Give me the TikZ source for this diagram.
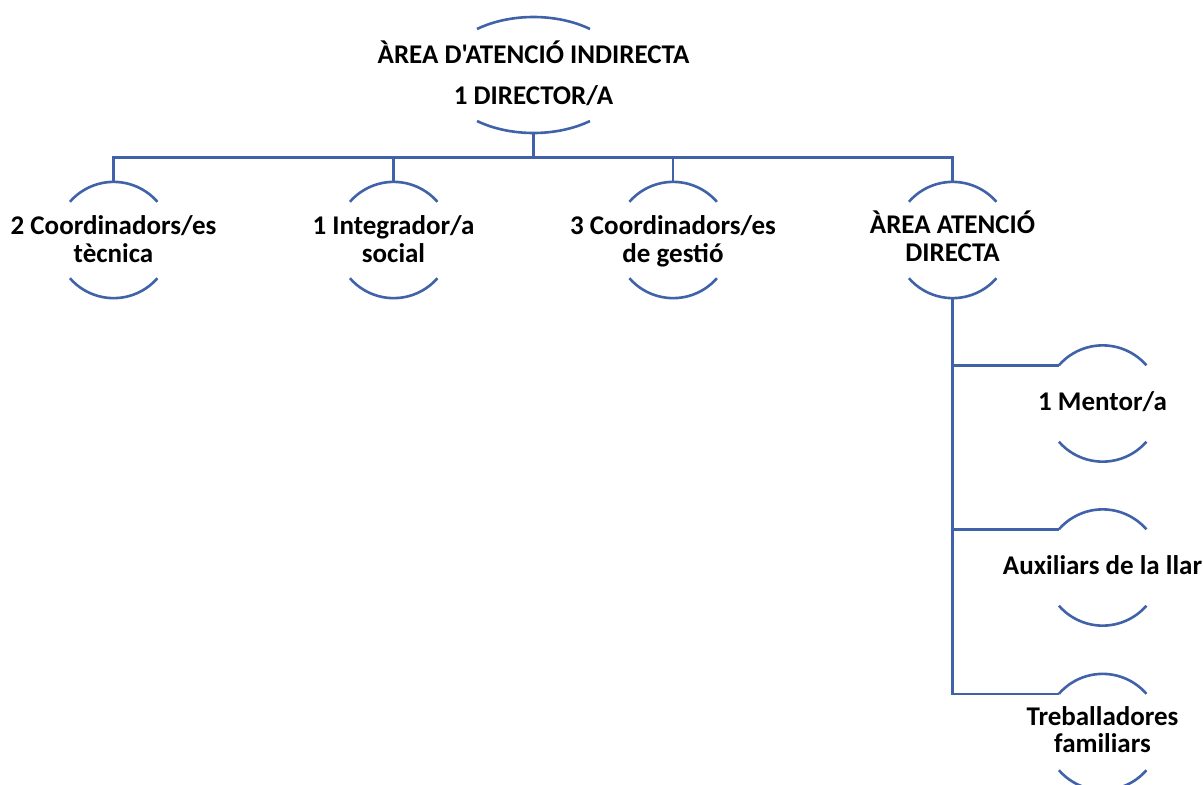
\documentclass[tikz,border=0pt]{standalone}
\usepackage{fontspec}
\setmainfont{Carlito}[Ligatures=TeXOff]
\usetikzlibrary{shapes.geometric}
\definecolor{lineblue}{RGB}{63,98,168}
\tikzset{
  x=1pt, y=1pt,
  link/.style={draw=lineblue, line width=2.6pt},
  arcline/.style={draw=lineblue, line width=2.6pt},
  ring/.style={circle, draw=none, minimum size=116pt, inner sep=0pt},
  topring/.style={ellipse, draw=none, minimum width=185.6pt, minimum height=116pt, inner sep=0pt},
  txt/.style={inner sep=0pt, anchor=base, font=\bfseries\fontsize{27}{28}\selectfont}
}
\newcommand{\ringarcs}[1]{%
  \draw[arcline] (#1.41) arc[start angle=41, end angle=139, radius=58];
  \draw[arcline] (#1.-41) arc[start angle=-41, end angle=-139, radius=58];
}
\begin{document}
\begin{tikzpicture}
\useasboundingbox (0,0) rectangle (1203,-785);
\clip (0,0) rectangle (1203,-785);
% top unit
\node[topring] (top) at (533.5,-75) {};
\draw[arcline] (top.center) ++(52.5:92.8 and 58) arc[start angle=52.5, end angle=127.5, x radius=92.8, y radius=58];
\draw[arcline] (top.center) ++(-52.5:92.8 and 58) arc[start angle=-52.5, end angle=-127.5, x radius=92.8, y radius=58];
\node[txt] (topa) at (533.5,-63.3) {ÀREA D'ATENCIÓ INDIRECTA};
\node[txt] (topb) at (533.5,-104.5) {1 DIRECTOR/A};
% level 2
\node[ring] (c1) at (113.5,-240) {};
\node[ring] (c2) at (393.5,-240) {};
\node[ring] (c3) at (673,-240) {};
\node[ring] (c4) at (952.5,-240) {};
\foreach \n in {c1,c2,c3,c4} {\ringarcs{\n}}
\node[txt] (c1a) at (113.5,-234) {2 Coordinadors/es};
\node[txt] (c1b) at (113.5,-262) {tècnica};
\node[txt] (c2a) at (393.5,-234) {1 Integrador/a};
\node[txt] (c2b) at (393.5,-262) {social};
\node[txt] (c3a) at (673,-234) {3 Coordinadors/es};
\node[txt] (c3b) at (673,-262) {de gestió};
\node[txt] (c4a) at (952.5,-233.5) {ÀREA ATENCIÓ};
\node[txt] (c4b) at (952.5,-261) {DIRECTA};
% level 3
\node[ring] (d1) at (1102.5,-403.5) {};
\node[ring] (d2) at (1102.5,-567.5) {};
\node[ring] (d3) at (1102.5,-732) {};
\foreach \n in {d1,d2,d3} {\ringarcs{\n}}
\node[txt] (d1a) at (1102.5,-410.5) {1 Mentor/a};
\node[txt] (d2a) at (1102.5,-574.5) {Auxiliars de la llar};
\node[txt] (d3a) at (1102.5,-725) {Treballadores};
\node[txt] (d3b) at (1102.5,-752.5) {familiars};
% connectors from top
\coordinate (bar) at (533.5,-157.5);
\draw[link] (top.south) -- (bar);
\foreach \n in {c1,c2,c3,c4} {\draw[link] (bar) -| (\n.north);}
% connectors from the direct-care area
\foreach \n in {d1,d2,d3} {\draw[link] (c4.south) |- (\n.139);}
\end{tikzpicture}
\end{document}
